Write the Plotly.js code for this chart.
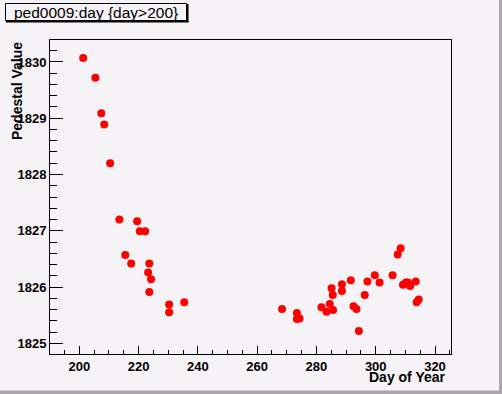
<!DOCTYPE html>
<html>
<head>
<meta charset="utf-8">
<script src="https://cdn.plot.ly/plotly-3.0.1.min.js"></script>
<style>
  html, body { margin: 0; padding: 0; background: #f6f3f6; }
  #chart { width: 502px; height: 394px; }
</style>
</head>
<body>
<div id="chart"></div>
<script>
// ---- data ----
const days = [201.3, 205.4, 207.4, 208.4, 210.4, 213.5, 219.5, 220.4, 222.2, 215.5,
              217.5, 223.6, 223.2, 224.2, 223.6, 230.3, 230.3, 235.4,
              268.4, 273.4, 273.4, 274.3, 281.7, 283.4, 284.5, 285.6, 285.1, 285.5,
              288.6, 288.6, 291.6, 292.5, 293.5, 294.3, 296.3, 297.2, 299.7, 301.3,
              305.7, 307.4, 308.4, 309.2, 310.2, 310.9, 311.6, 313.5, 313.8, 314.5];
const pedestal = [1830.07, 1829.72, 1829.09, 1828.89, 1828.20, 1827.20, 1827.17, 1826.99, 1826.99, 1826.57,
                  1826.42, 1826.42, 1826.26, 1826.14, 1825.91, 1825.69, 1825.55, 1825.73,
                  1825.61, 1825.54, 1825.43, 1825.44, 1825.64, 1825.56, 1825.70, 1825.59, 1825.98, 1825.86,
                  1826.05, 1825.93, 1826.12, 1825.66, 1825.61, 1825.22, 1825.86, 1826.10, 1826.21, 1826.08,
                  1826.21, 1826.58, 1826.69, 1826.04, 1826.08, 1826.08, 1826.02, 1826.10, 1825.73, 1825.78];
const titleText = "ped0009:day {day>200}";
const xTitle = "Day of Year";
const yTitle = "Pedestal Value";

// ---- geometry helpers (pixel -> paper) ----
const L = 50, T = 40, W = 401, H = 314;
const px = x => (x - L) / W;
const py = y => (T + H - y) / H;

const bg = '#f6f3f6';
const font = 'Liberation Sans, Arial, sans-serif';

const trace = {
  x: days, y: pedestal, type: 'scatter', mode: 'markers',
  marker: { color: '#ff0000', size: 8, symbol: 'circle', line: { width: 0 } },
  hoverinfo: 'x+y'
};

const axisCommon = {
  showgrid: false, zeroline: false, showline: true, linecolor: '#000', linewidth: 1,
  mirror: true, ticks: 'inside', tickcolor: '#000', tickwidth: 1,
  tickfont: { family: font, size: 13, color: '#000', weight: 'bold' }
};

const layout = {
  width: 502, height: 394,
  margin: { l: L, r: 502 - L - W, t: T, b: 394 - T - H, pad: 0 },
  paper_bgcolor: bg, plot_bgcolor: bg,
  showlegend: false,
  xaxis: Object.assign({}, axisCommon, {
    range: [190.1, 325.4], tick0: 200, dtick: 20, ticklen: 8,
    minor: { dtick: 5, tick0: 200, ticks: 'inside', ticklen: 4, tickcolor: '#000', tickwidth: 1, showgrid: false }
  }),
  yaxis: Object.assign({}, axisCommon, {
    range: [1824.81, 1830.39], tick0: 1825, dtick: 1, ticklen: 13, tickformat: 'd',
    minor: { dtick: 0.2, tick0: 1825, ticks: 'inside', ticklen: 7, tickcolor: '#000', tickwidth: 1, showgrid: false }
  }),
  shapes: [
    // canvas bevel (right & bottom)
    { type: 'rect', xref: 'paper', yref: 'paper', x0: px(499), x1: px(503), y0: py(-1), y1: py(395),
      line: { width: 0 }, fillcolor: '#a9a7a9', layer: 'below' },
    { type: 'rect', xref: 'paper', yref: 'paper', x0: px(-1), x1: px(503), y0: py(390.5), y1: py(395),
      line: { width: 0 }, fillcolor: '#a9a7a9', layer: 'below' },
    // title box
    { type: 'rect', xref: 'paper', yref: 'paper', x0: px(5.5), x1: px(186.5), y0: py(3.5), y1: py(20.5),
      line: { width: 1, color: '#000' }, fillcolor: bg },
    { type: 'line', xref: 'paper', yref: 'paper', x0: px(187.5), x1: px(187.5), y0: py(4), y1: py(22),
      line: { width: 2, color: '#000' } },
    { type: 'line', xref: 'paper', yref: 'paper', x0: px(6), x1: px(188.5), y0: py(21.5), y1: py(21.5),
      line: { width: 2, color: '#000' } }
  ],
  annotations: [
    { text: titleText, xref: 'paper', yref: 'paper', x: px(96), y: py(12.5),
      xanchor: 'center', yanchor: 'middle', showarrow: false,
      font: { family: font, size: 15.5, color: '#000' } },
    { text: xTitle, xref: 'paper', yref: 'paper', x: px(448), y: py(367),
      xanchor: 'right', yanchor: 'top', showarrow: false,
      font: { family: font, size: 14, color: '#000', weight: 'bold' } },
    { text: yTitle, xref: 'paper', yref: 'paper', x: px(16.5), y: py(40.5),
      xanchor: 'center', yanchor: 'top', showarrow: false, textangle: -90,
      font: { family: font, size: 14, color: '#000', weight: 'bold' } }
  ]
};

Plotly.newPlot('chart', [trace], layout, { displayModeBar: false, staticPlot: true });
</script>
</body>
</html>
